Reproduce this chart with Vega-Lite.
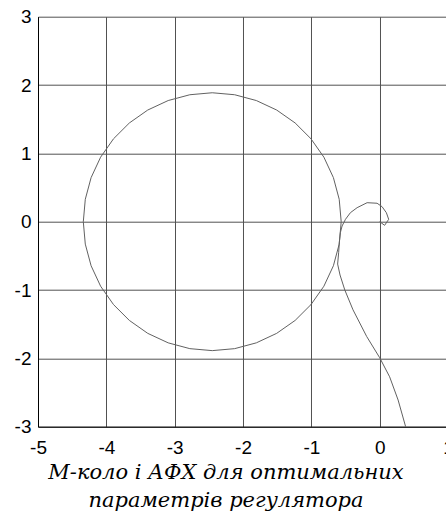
{
  "$schema": "https://vega.github.io/schema/vega-lite/v6.json",
  "autosize": {"type": "none"},
  "width": 410,
  "height": 410,
  "padding": {"left": 38, "top": 16.7, "right": 0, "bottom": 86},
  "background": "white",
  "title": {
    "text": ["М-коло і АФХ для оптимальних", "параметрів регулятора"],
    "orient": "bottom",
    "anchor": "middle",
    "dx": -17,
    "offset": 4,
    "font": "DejaVu Serif",
    "fontStyle": "italic",
    "fontWeight": "normal",
    "fontSize": 21,
    "lineHeight": 28,
    "color": "black"
  },
  "config": {
    "view": {"stroke": null},
    "axis": {
      "labelFont": "Liberation Sans",
      "labelFontSize": 19,
      "labelColor": "black",
      "ticks": false,
      "domainColor": "black",
      "domainWidth": 1,
      "gridColor": "#505050",
      "gridWidth": 1,
      "gridOpacity": 1,
      "title": null
    }
  },
  "datasets": {
    "circle": [
      {"i": 0, "x": -0.563, "y": 0},
      {"i": 1, "x": -0.592, "y": 0.328},
      {"i": 2, "x": -0.677, "y": 0.645},
      {"i": 3, "x": -0.816, "y": 0.944},
      {"i": 4, "x": -1.005, "y": 1.213},
      {"i": 5, "x": -1.237, "y": 1.445},
      {"i": 6, "x": -1.507, "y": 1.634},
      {"i": 7, "x": -1.805, "y": 1.773},
      {"i": 8, "x": -2.122, "y": 1.858},
      {"i": 9, "x": -2.45, "y": 1.887},
      {"i": 10, "x": -2.778, "y": 1.858},
      {"i": 11, "x": -3.095, "y": 1.773},
      {"i": 12, "x": -3.394, "y": 1.634},
      {"i": 13, "x": -3.663, "y": 1.445},
      {"i": 14, "x": -3.895, "y": 1.213},
      {"i": 15, "x": -4.084, "y": 0.944},
      {"i": 16, "x": -4.223, "y": 0.645},
      {"i": 17, "x": -4.308, "y": 0.328},
      {"i": 18, "x": -4.337, "y": 0},
      {"i": 19, "x": -4.308, "y": -0.328},
      {"i": 20, "x": -4.223, "y": -0.645},
      {"i": 21, "x": -4.084, "y": -0.944},
      {"i": 22, "x": -3.895, "y": -1.213},
      {"i": 23, "x": -3.663, "y": -1.445},
      {"i": 24, "x": -3.394, "y": -1.634},
      {"i": 25, "x": -3.095, "y": -1.773},
      {"i": 26, "x": -2.778, "y": -1.858},
      {"i": 27, "x": -2.45, "y": -1.887},
      {"i": 28, "x": -2.122, "y": -1.858},
      {"i": 29, "x": -1.805, "y": -1.773},
      {"i": 30, "x": -1.507, "y": -1.634},
      {"i": 31, "x": -1.237, "y": -1.445},
      {"i": 32, "x": -1.005, "y": -1.213},
      {"i": 33, "x": -0.816, "y": -0.944},
      {"i": 34, "x": -0.677, "y": -0.645},
      {"i": 35, "x": -0.592, "y": -0.328},
      {"i": 36, "x": -0.563, "y": 0}
    ],
    "afh": [
      {"i": 0, "x": 0.42, "y": -3.25},
      {"i": 1, "x": 0.38, "y": -3.0},
      {"i": 2, "x": 0.27, "y": -2.61},
      {"i": 3, "x": 0.146, "y": -2.27},
      {"i": 4, "x": 0.0, "y": -1.99},
      {"i": 5, "x": -0.19, "y": -1.68},
      {"i": 6, "x": -0.39, "y": -1.29},
      {"i": 7, "x": -0.51, "y": -1.0},
      {"i": 8, "x": -0.58, "y": -0.78},
      {"i": 9, "x": -0.615, "y": -0.62},
      {"i": 10, "x": -0.6, "y": -0.45},
      {"i": 11, "x": -0.59, "y": -0.3},
      {"i": 12, "x": -0.575, "y": -0.16},
      {"i": 13, "x": -0.55, "y": -0.063},
      {"i": 14, "x": -0.5, "y": 0.035},
      {"i": 15, "x": -0.428, "y": 0.132},
      {"i": 16, "x": -0.33, "y": 0.205},
      {"i": 17, "x": -0.184, "y": 0.278},
      {"i": 18, "x": -0.038, "y": 0.27},
      {"i": 19, "x": 0.035, "y": 0.22},
      {"i": 20, "x": 0.098, "y": 0.132},
      {"i": 21, "x": 0.132, "y": 0.035},
      {"i": 22, "x": 0.073, "y": -0.053},
      {"i": 23, "x": 0.0, "y": 0.0}
    ]
  },
  "encoding": {
    "x": {
      "field": "x", "type": "quantitative",
      "scale": {"domain": [-5, 1], "nice": false, "zero": false},
      "axis": {"values": [-5, -4, -3, -2, -1, 0, 1], "labelExpr": "'' + datum.value", "labelPadding": 12, "labelFlush": false}
    },
    "y": {
      "field": "y", "type": "quantitative",
      "scale": {"domain": [-3, 3], "nice": false, "zero": false},
      "axis": {"values": [-3, -2, -1, 0, 1, 2, 3], "labelExpr": "'' + datum.value", "labelPadding": 7, "labelFlush": false}
    },
    "order": {"field": "i", "type": "quantitative"}
  },
  "layer": [
    {
      "data": {"name": "circle"},
      "mark": {"type": "line", "color": "#606060", "strokeWidth": 1, "clip": true}
    },
    {
      "data": {"name": "afh"},
      "mark": {"type": "line", "color": "#606060", "strokeWidth": 1, "clip": true}
    }
  ]
}
